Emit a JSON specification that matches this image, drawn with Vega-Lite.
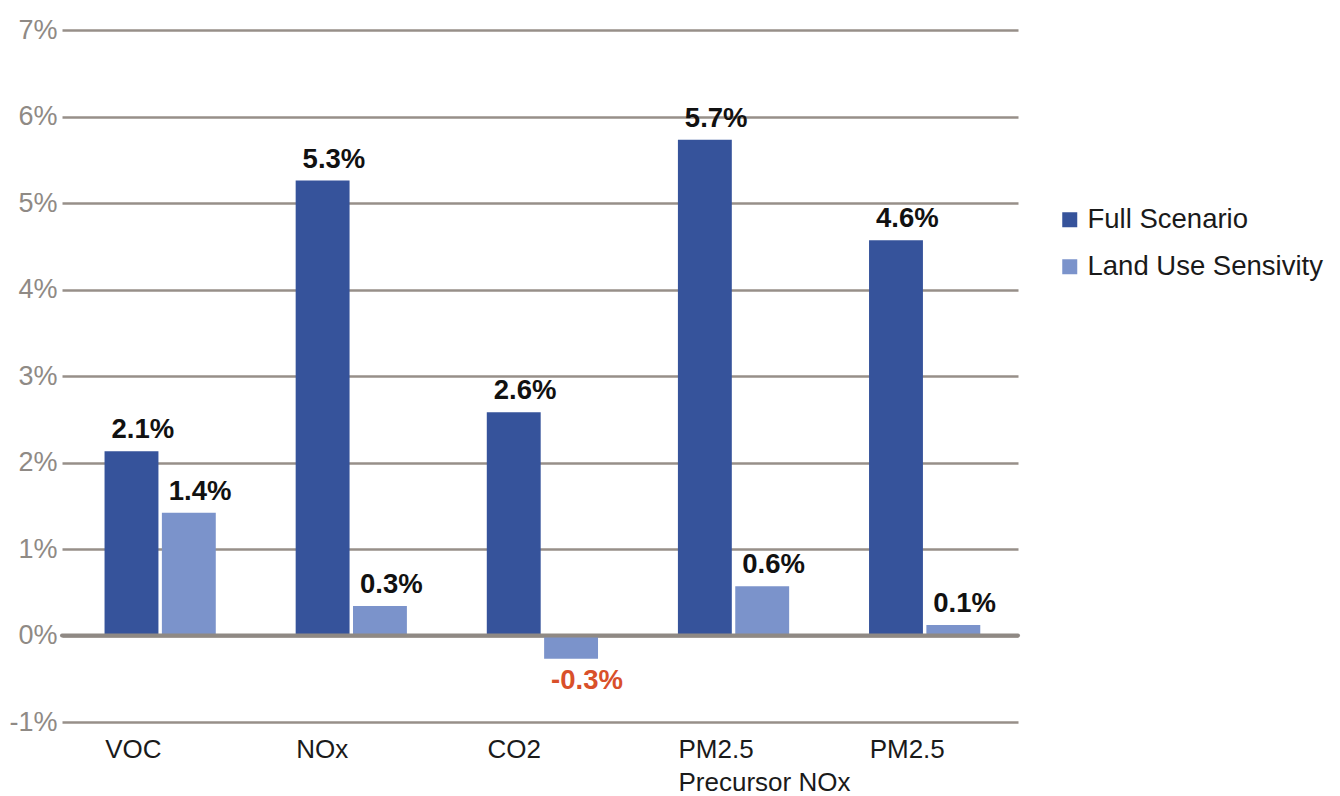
{
  "$schema": "https://vega.github.io/schema/vega-lite/v6.json",
  "width": 956,
  "height": 692,
  "autosize": "none",
  "padding": {"left": 62, "top": 30, "right": 322, "bottom": 74},
  "background": "white",
  "config": {
    "view": {"stroke": null},
    "font": "Liberation Sans",
    "legend": {
      "orient": "none",
      "legendX": 994,
      "legendY": 176,
      "title": null,
      "symbolType": "square",
      "symbolSize": 225,
      "labelFontSize": 27.5,
      "labelFont": "Liberation Sans",
      "labelColor": "#1a1a1a",
      "labelOffset": 4,
      "labelLimit": 400,
      "rowPadding": 18,
      "padding": 0
    }
  },
  "data": {
    "values": [
      {"pollutant": "VOC", "scenario": "Full Scenario", "value": 2.13, "label": "2.1%"},
      {"pollutant": "VOC", "scenario": "Land Use Sensivity", "value": 1.42, "label": "1.4%"},
      {"pollutant": "NOx", "scenario": "Full Scenario", "value": 5.26, "label": "5.3%"},
      {"pollutant": "NOx", "scenario": "Land Use Sensivity", "value": 0.34, "label": "0.3%"},
      {"pollutant": "CO2", "scenario": "Full Scenario", "value": 2.58, "label": "2.6%"},
      {"pollutant": "CO2", "scenario": "Land Use Sensivity", "value": -0.27, "label": "-0.3%"},
      {"pollutant": "PM2.5 Precursor NOx", "scenario": "Full Scenario", "value": 5.73, "label": "5.7%"},
      {"pollutant": "PM2.5 Precursor NOx", "scenario": "Land Use Sensivity", "value": 0.57, "label": "0.6%"},
      {"pollutant": "PM2.5", "scenario": "Full Scenario", "value": 4.57, "label": "4.6%"},
      {"pollutant": "PM2.5", "scenario": "Land Use Sensivity", "value": 0.12, "label": "0.1%"}
    ]
  },
  "encoding": {
    "y": {
      "field": "value",
      "type": "quantitative",
      "scale": {"domain": [-1, 7], "nice": false, "zero": false},
      "axis": {
        "title": null,
        "values": [-1, 0, 1, 2, 3, 4, 5, 6, 7],
        "labelExpr": "datum.value + '%'",
        "labelFontSize": 27,
        "labelColor": "#8f8a85",
        "labelPadding": 5,
        "ticks": false,
        "domain": false,
        "grid": true,
        "gridColor": "#978f89",
        "gridWidth": 2.5
      }
    }
  },
  "layer": [
    {
      "mark": {"type": "bar"},
      "encoding": {
        "x": {
          "field": "pollutant",
          "type": "nominal",
          "sort": ["VOC", "NOx", "CO2", "PM2.5 Precursor NOx", "PM2.5"],
          "scale": {"paddingInner": 0.418, "paddingOuter": 0.21, "align": 0.53},
          "axis": {
            "title": null,
            "labelAngle": 0,
            "labelAlign": "left",
            "labelOffset": -55,
            "labelPadding": 14,
            "labelFontSize": 26,
            "labelColor": "#1a1a1a",
            "labelLineHeight": 33,
            "labelExpr": "datum.label == 'PM2.5 Precursor NOx' ? ['PM2.5', 'Precursor NOx'] : datum.label",
            "domain": false,
            "ticks": false,
            "grid": false
          }
        },
        "xOffset": {
          "field": "scenario",
          "type": "nominal",
          "scale": {"domain": ["Full Scenario", "Land Use Sensivity"], "paddingInner": 0.06}
        },
        "color": {
          "field": "scenario",
          "type": "nominal",
          "scale": {"domain": ["Full Scenario", "Land Use Sensivity"], "range": ["#36539b", "#7b93cb"]}
        }
      }
    },
    {
      "data": {"values": [{"z": 0}]},
      "mark": {"type": "rule", "color": "#8f8984", "strokeWidth": 4, "strokeCap": "round"},
      "encoding": {"y": {"field": "z", "type": "quantitative"}}
    },
    {
      "transform": [{"filter": "datum.value >= 0"}],
      "mark": {"type": "text", "align": "left", "baseline": "bottom", "dx": -20, "dy": -7, "fontSize": 27.5, "fontWeight": "bold", "color": "#111111"},
      "encoding": {
        "x": {"field": "pollutant", "type": "nominal", "sort": ["VOC", "NOx", "CO2", "PM2.5 Precursor NOx", "PM2.5"]},
        "xOffset": {"field": "scenario", "type": "nominal"},
        "text": {"field": "label"}
      }
    },
    {
      "transform": [{"filter": "datum.value < 0"}],
      "mark": {"type": "text", "align": "left", "baseline": "top", "dx": -20, "dy": 8, "fontSize": 27.5, "fontWeight": "bold", "color": "#d9502a"},
      "encoding": {
        "x": {"field": "pollutant", "type": "nominal", "sort": ["VOC", "NOx", "CO2", "PM2.5 Precursor NOx", "PM2.5"]},
        "xOffset": {"field": "scenario", "type": "nominal"},
        "text": {"field": "label"}
      }
    }
  ]
}
